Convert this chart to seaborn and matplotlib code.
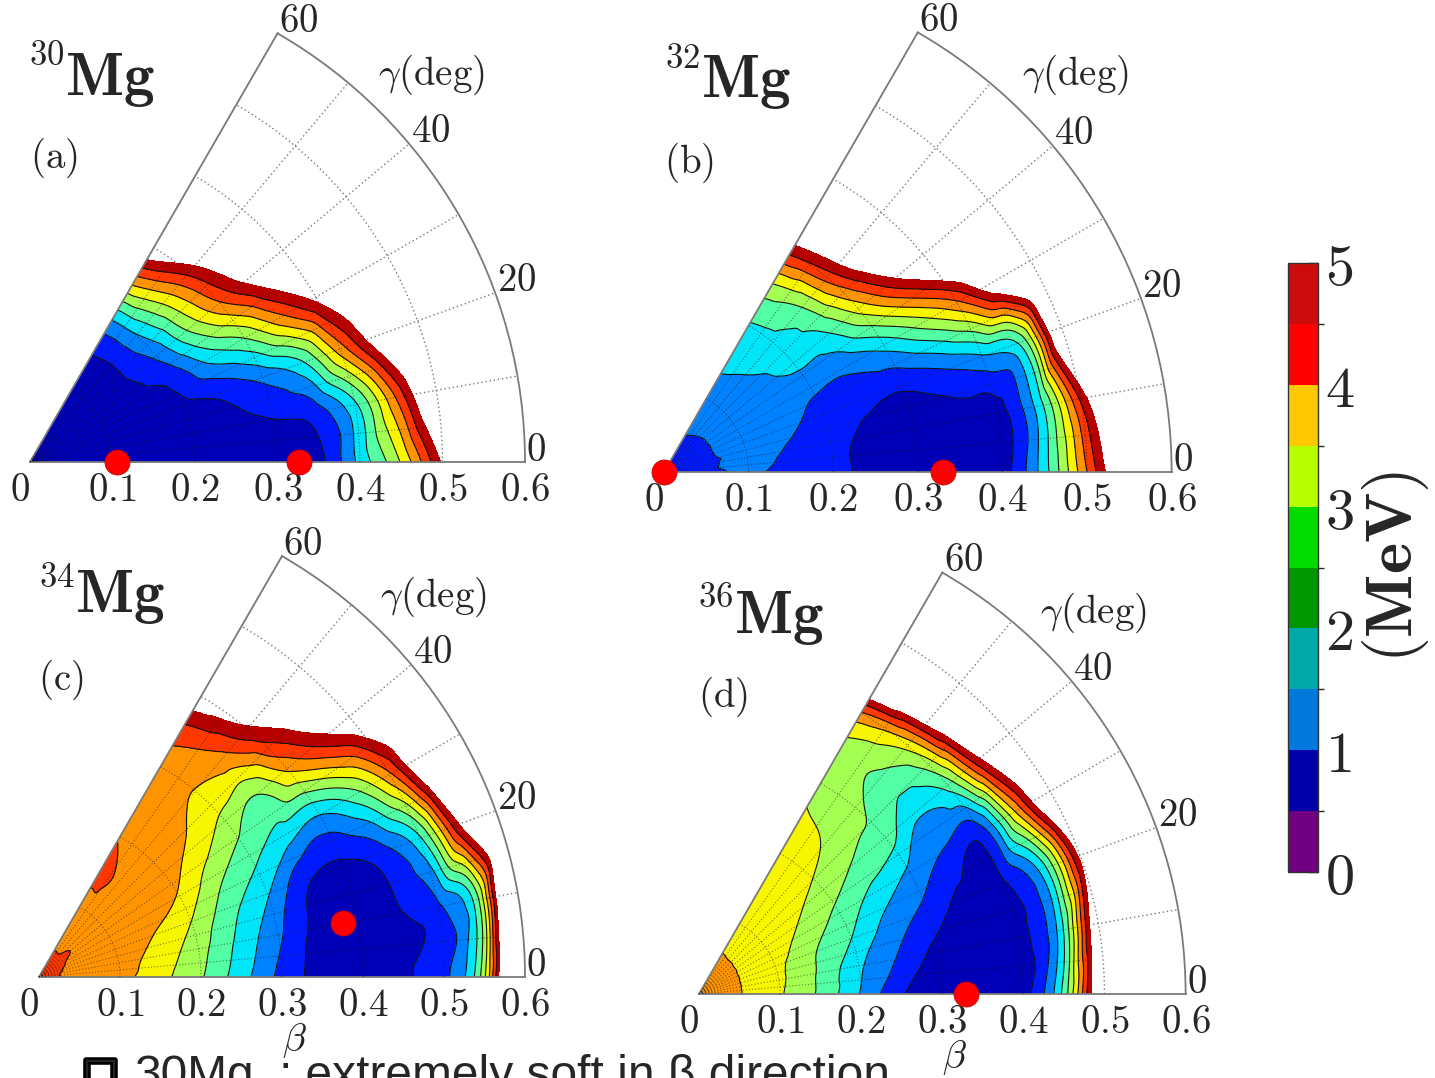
import numpy as np
import matplotlib
matplotlib.use("Agg")
import matplotlib.pyplot as plt
import matplotlib.tri as mtri
import matplotlib.patheffects as pe
from matplotlib.path import Path
from matplotlib.colors import ListedColormap, BoundaryNorm
from matplotlib.cm import ScalarMappable
import seaborn as sns

sns.set_theme(style="white")
plt.rcParams["font.family"] = ["DejaVu Serif", "DejaVu Sans"]
plt.rcParams["mathtext.fontset"] = "cm"

W, H = 1435, 1078

# deformation mesh of the potential energy surfaces
beta_grid = [0.00, 0.05, 0.10, 0.15, 0.20, 0.25, 0.30, 0.35, 0.40, 0.45, 0.50, 0.55, 0.60]
gamma_grid = [0, 10, 20, 30, 40, 50, 60]

# energy relative to the minimum (MeV); one row per gamma, one column per beta
energy_30mg = [
    [0.3, 0.2, 0.0, 0.1, 0.2, 0.15, 0.05, 0.35, 1.65, 3.05, 5.1, 7.5, 10.0],
    [0.3, 0.2, 0.1, 0.15, 0.25, 0.35, 0.5, 0.75, 1.9, 4.0, 6.5, 9.0, 11.5],
    [0.3, 0.25, 0.25, 0.35, 0.4, 0.65, 1.15, 1.9, 3.75, 5.65, 7.55, 9.45, 11.35],
    [0.3, 0.3, 0.35, 0.35, 0.65, 1.65, 2.5, 3.85, 5.2, 6.6, 8.0, 9.4, 10.8],
    [0.3, 0.3, 0.35, 0.45, 1.1, 2.55, 3.95, 5.35, 6.75, 8.15, 9.55, 10.95, 12.35],
    [0.3, 0.3, 0.35, 0.45, 1.45, 3.0, 4.65, 6.3, 7.95, 9.6, 11.25, 12.9, 14.55],
    [0.3, 0.3, 0.35, 0.5, 1.55, 3.6, 5.7, 7.8, 9.9, 12.0, 14.1, 16.2, 18.3],
]
energy_32mg = [
    [0.8, 0.9, 1.05, 0.85, 0.6, 0.4, 0.3, 0.3, 0.3, 1.8, 4.0, 6.3, 8.6],
    [0.8, 0.9, 1.2, 0.95, 0.65, 0.4, 0.3, 0.3, 0.3, 1.75, 4.6, 7.4, 10.2],
    [0.8, 0.95, 1.15, 1.1, 0.85, 0.65, 0.6, 0.95, 1.45, 2.2, 6.5, 10.5, 14.5],
    [0.8, 0.95, 1.15, 1.15, 1.1, 1.15, 1.7, 2.7, 3.9, 5.7, 7.5, 9.3, 11.1],
    [0.8, 0.95, 1.2, 1.35, 1.65, 1.9, 3.2, 4.8, 6.4, 8.0, 9.6, 11.2, 12.8],
    [0.8, 0.97, 1.25, 1.5, 1.85, 2.4, 4.2, 6.2, 8.2, 10.2, 12.2, 14.2, 16.2],
    [0.8, 1.0, 1.3, 1.6, 1.95, 2.8, 4.65, 6.6, 8.55, 10.5, 12.45, 14.4, 16.35],
]
energy_34mg = [
    [4.2, 3.8, 3.65, 3.15, 2.55, 1.7, 0.85, 0.3, 0.25, 0.45, 0.85, 2.9, 10.0],
    [4.2, 3.85, 3.7, 3.3, 2.7, 1.9, 1.1, 0.35, 0.15, 0.45, 0.9, 2.4, 9.0],
    [4.2, 3.9, 3.75, 3.5, 3.0, 2.2, 1.55, 0.6, 0.4, 0.8, 1.9, 4.9, 7.9],
    [4.2, 3.95, 3.85, 3.7, 3.45, 2.7, 2.2, 1.75, 1.5, 2.3, 3.9, 6.5, 9.1],
    [4.2, 4.0, 3.9, 3.8, 3.7, 3.35, 2.85, 2.5, 3.6, 4.66, 5.7, 6.8, 7.9],
    [4.2, 3.95, 3.9, 3.95, 3.85, 3.7, 3.48, 3.8, 4.9, 6.0, 7.1, 8.2, 9.3],
    [4.2, 3.95, 3.85, 4.1, 3.98, 3.8, 3.75, 4.3, 5.55, 6.8, 8.0, 9.2, 10.4],
]
energy_36mg = [
    [3.8, 3.52, 3.05, 2.4, 1.45, 0.55, 0.2, 0.15, 0.3, 2.2, 6.5, 10.8, 15.1],
    [3.8, 3.52, 3.1, 2.45, 1.6, 0.95, 0.35, 0.1, 0.3, 1.6, 6.0, 10.4, 14.8],
    [3.8, 3.52, 3.15, 2.55, 2.0, 1.3, 0.85, 0.35, 0.45, 1.7, 5.2, 8.7, 12.2],
    [3.8, 3.52, 3.25, 2.85, 2.35, 1.85, 1.4, 0.95, 0.75, 3.5, 6.75, 10.0, 13.25],
    [3.8, 3.52, 3.35, 3.1, 2.8, 2.45, 2.25, 1.6, 2.2, 4.9, 7.6, 10.3, 13.0],
    [3.8, 3.52, 3.4, 3.25, 3.12, 2.92, 2.6, 2.4, 3.2, 6.0, 8.8, 11.6, 14.4],
    [3.8, 3.53, 3.4, 3.3, 3.2, 3.05, 2.9, 2.8, 3.95, 7.0, 10.0, 13.0, 16.0],
]

# energy minima (beta, gamma in degrees)
minima_beta = [[0.105, 0.326], [0.0, 0.33], [0.381], [0.329]]
minima_gamma = [[0, 0], [0, 0], [10], [0]]

mass_numbers = ["30", "32", "34", "36"]
panel_tags = ["(a)", "(b)", "(c)", "(d)"]
surfaces = [energy_30mg, energy_32mg, energy_34mg, energy_36mg]

beta_ticks = [0.0, 0.1, 0.2, 0.3, 0.4, 0.5, 0.6]
beta_tick_labels = ["0", "0.1", "0.2", "0.3", "0.4", "0.5", "0.6"]
gamma_ticks = [0, 20, 40, 60]
energy_levels = [0.5, 1.0, 1.5, 2.0, 2.5, 3.0, 3.5, 4.0, 4.5, 5.0]
cbar_ticks = [0, 1, 2, 3, 4, 5]
cbar_colors = ["#70007f", "#0000aa", "#0078dc", "#00a8a8", "#009600",
               "#00dc00", "#b8ff00", "#ffc800", "#ff0000", "#cc0c0c"]

# page layout in pixels: sector origin, pixels per unit beta, text anchors
layout = [
    dict(origin=(30, 462), scale=825, title=(29, 95), sup_drop=30, tag=(30, 158), beta_label=False),
    dict(origin=(664, 472), scale=846, title=(665, 97), sup_drop=29, tag=(664, 163), beta_label=False),
    dict(origin=(39, 977), scale=810, title=(39, 612), sup_drop=25, tag=(38, 680), beta_label=True),
    dict(origin=(699, 994), scale=811, title=(698, 633), sup_drop=26, tag=(698, 697), beta_label=True),
]

jet = matplotlib.colormaps["jet"]
band_colors = [jet((i + 0.5) / 10) for i in range(10)]
fill_levels = [-100.0] + energy_levels

fig = plt.figure(figsize=(W / 100, H / 100), dpi=100)
fig.patch.set_facecolor("white")


def fig_xy(x, y):
    return x / W, 1 - y / H


def smooth_surface(energy):
    """Cubic refinement of the (gamma, beta) mesh, with a fixed diagonal in every cell."""
    g = np.deg2rad(np.asarray(gamma_grid, float))
    b = np.asarray(beta_grid, float)
    ng, nb = len(g), len(b)
    gg, bb = np.meshgrid(g, b, indexing="ij")
    k = 0.6 / (np.pi / 3)
    tris = []
    for i in range(ng - 1):
        for j in range(nb - 1):
            a0, a1 = i * nb + j, i * nb + j + 1
            c0, c1 = (i + 1) * nb + j, (i + 1) * nb + j + 1
            tris.append([a0, a1, c1])
            tris.append([a0, c1, c0])
    tri = mtri.Triangulation(gg.ravel() * k, bb.ravel(), np.array(tris))
    z = np.asarray(energy, float).ravel()
    interp = mtri.CubicTriInterpolator(tri, z, kind="geom")
    tri_f, z_f = mtri.UniformTriRefiner(tri).refine_field(z, triinterpolator=interp, subdiv=4)
    return mtri.Triangulation(tri_f.x / k, tri_f.y, tri_f.triangles), z_f


for energy, mb, mg, a_num, tag, lay in zip(surfaces, minima_beta, minima_gamma,
                                           mass_numbers, panel_tags, layout):
    ox, oy = lay["origin"]
    s = lay["scale"]
    r_px = 0.6 * s
    # polar axes keep a square box with the 60-degree wedge centred in it
    pad = (1 - np.sin(np.pi / 3)) / 2 * r_px
    rect = [ox / W, (H - oy - pad) / H, r_px / W, r_px / H]
    ax = fig.add_axes(rect, projection="polar")
    ax.set_thetamin(0)
    ax.set_thetamax(60)
    ax.set_rlim(0, 0.6)
    ax.set_thetagrids(range(0, 61, 10), labels=[""] * 7)
    ax.set_rgrids([0.1, 0.2, 0.3, 0.4, 0.5], labels=[""] * 5)
    ax.grid(True, color="#7a7a7a", linestyle=(0, (1, 2)), linewidth=1.0)
    ax.set_axisbelow(True)
    ax.tick_params(length=0)
    for side in ("polar", "start", "end"):
        ax.spines[side].set_color("#7a7a7a")
        ax.spines[side].set_linewidth(1.3)
    ax.spines["inner"].set_visible(False)

    tri_p, z_f = smooth_surface(energy)
    ax.tricontourf(tri_p, z_f, levels=fill_levels, colors=band_colors, zorder=1)
    ax.tricontour(tri_p, z_f, levels=energy_levels[:-1], colors="#111111",
                  linewidths=0.8, zorder=2)

    # region below the 5 MeV cut, used to clip the dark mesh lines
    mask = ax.tricontourf(tri_p, z_f, levels=[-100.0, 5.0], colors="none")
    region = Path.make_compound_path(*mask.get_paths())
    mask.remove()
    mesh_style = dict(color="#1a1a1a", linestyle=(0, (1, 2)), linewidth=0.75, alpha=0.6, zorder=3)
    for gdeg in range(5, 60, 5):
        (ln,) = ax.plot([np.deg2rad(gdeg)] * 2, [0, 0.6], **mesh_style)
        ln.set_clip_path(region, ax.transData)
    arc = np.linspace(0, np.pi / 3, 240)
    for bv in [0.1, 0.2, 0.3, 0.4, 0.5]:
        (ln,) = ax.plot(arc, np.full_like(arc, bv), **mesh_style)
        ln.set_clip_path(region, ax.transData)

    ax.plot(np.deg2rad(mg), mb, "o", ms=18, color="#ff0000", mec="#d00000", mew=0.6,
            clip_on=False, zorder=6)

    for bt, bl in zip(beta_ticks, beta_tick_labels):
        ax.annotate(f"${bl}$", xy=(0, bt), xytext=(0, -7), textcoords="offset points",
                    ha="right" if bt == 0 else "center", va="top", fontsize=28,
                    annotation_clip=False)
    for gt in gamma_ticks:
        ax.annotate(f"${gt}$", xy=(np.deg2rad(gt), 0.6), xytext=(1, 1),
                    textcoords="offset points", ha="left", va="baseline", fontsize=28,
                    annotation_clip=False)
    ax.text(np.deg2rad(44), 0.676, r"$\gamma\mathrm{(deg)}$", ha="center", va="center",
            fontsize=28)

    tx, ty = lay["title"]
    fig.text(*fig_xy(tx, ty - lay["sup_drop"]), f"${a_num}$", fontsize=25,
             ha="left", va="baseline")
    fig.text(*fig_xy(tx + 36, ty), r"$\mathbf{Mg}$", fontsize=44,
             ha="left", va="baseline")
    fig.text(*fig_xy(*lay["tag"]), r"$\mathrm{" + tag + "}$", fontsize=28,
             ha="left", va="center")
    if lay["beta_label"]:
        fig.text(*fig_xy(ox + 0.315 * s, oy + 0.078 * s), r"$\beta$", fontsize=28,
                 ha="center", va="center")

# colour scale
cax = fig.add_axes([1288 / W, (H - 872) / H, 30 / W, 609 / H])
cmap_bar = ListedColormap(sns.color_palette(cbar_colors))
norm = BoundaryNorm([0.0] + energy_levels, cmap_bar.N)
cb = fig.colorbar(ScalarMappable(norm=norm, cmap=cmap_bar), cax=cax, ticks=cbar_ticks)
cb.ax.set_yticklabels([f"${t}$" for t in cbar_ticks], fontsize=42)
cb.ax.tick_params(direction="in", length=7, width=1, color="#333333", pad=5)
cb.outline.set_edgecolor("#333333")
cb.outline.set_linewidth(1.0)
cb.set_label(r"$\mathbf{(MeV)}$", fontsize=48, rotation=90, labelpad=4)

# note running along the bottom edge
cap_font = dict(family=["Liberation Sans", "DejaVu Sans"], fontsize=34.5, va="baseline")
fig.text(*fig_xy(86, 1089), "\u25a1", fontweight="bold",
         path_effects=[pe.withStroke(linewidth=4, foreground="black")], **cap_font)
fig.text(*fig_xy(134, 1089), "30Mg", **cap_font)
fig.text(*fig_xy(279, 1089), "; extremely soft in \u03b2 direction", **cap_font)

fig.savefig("out.png", dpi=100, facecolor="white")
